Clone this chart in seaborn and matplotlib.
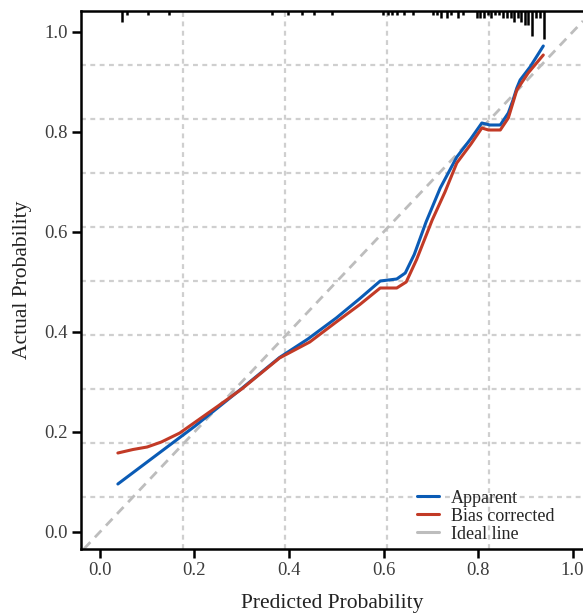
import numpy as np
import pandas as pd
import matplotlib
matplotlib.use("Agg")
import matplotlib.pyplot as plt
import matplotlib.transforms as mtransforms
from matplotlib.lines import Line2D
import seaborn as sns

# Calibration curves (lowess-smoothed)
apparent_x = [0.038, 0.10, 0.20, 0.30, 0.38, 0.44, 0.50, 0.55, 0.593, 0.628, 0.646,
              0.665, 0.69, 0.72, 0.755, 0.785, 0.808, 0.825, 0.847, 0.864, 0.874,
              0.882, 0.889, 0.91, 0.938]
apparent_y = [0.096, 0.14, 0.211, 0.287, 0.349, 0.386, 0.428, 0.467, 0.502, 0.506, 0.518,
              0.555, 0.62, 0.688, 0.75, 0.787, 0.818, 0.814, 0.814, 0.838, 0.864,
              0.888, 0.904, 0.93, 0.972]
corrected_x = [0.038, 0.07, 0.10, 0.13, 0.169, 0.205, 0.25, 0.30, 0.38, 0.444, 0.50,
               0.55, 0.593, 0.628, 0.648, 0.67, 0.703, 0.73, 0.755, 0.785, 0.808,
               0.822, 0.847, 0.864, 0.882, 0.906, 0.938]
corrected_y = [0.158, 0.165, 0.170, 0.180, 0.198, 0.222, 0.252, 0.286, 0.348, 0.38, 0.42,
               0.455, 0.488, 0.488, 0.50, 0.545, 0.624, 0.68, 0.738, 0.776, 0.808,
               0.804, 0.804, 0.828, 0.884, 0.918, 0.954]

# Distribution of predicted probabilities (histogram along the top)
pred_bins = [0.047, 0.057, 0.102, 0.146, 0.364, 0.398, 0.428, 0.453, 0.491, 0.599,
             0.610, 0.618, 0.629, 0.643, 0.662, 0.705, 0.713, 0.722, 0.734, 0.743,
             0.758, 0.768, 0.798, 0.804, 0.813, 0.821, 0.827, 0.836, 0.844, 0.853,
             0.861, 0.870, 0.876, 0.885, 0.891, 0.899, 0.906, 0.914, 0.923, 0.931, 0.940]
pred_counts = [3, 1, 1, 1, 1, 1, 1, 1, 1, 1,
               1, 1, 1, 1, 1, 1, 1, 2, 2, 1,
               2, 1, 2, 2, 2, 1, 2, 1, 1, 2,
               2, 2, 3, 2, 3, 4, 4, 7, 2, 2, 8]

x_ticks = [0.0, 0.2, 0.4, 0.6, 0.8, 1.0]
y_ticks = [0.0, 0.2, 0.4, 0.6, 0.8, 1.0]
tick_labels = ["0.0", "0.2", "0.4", "0.6", "0.8", "1.0"]
series_names = ["Apparent", "Bias corrected", "Ideal line"]
colors = {"Apparent": "#0a5bb5", "Bias corrected": "#c23a26", "Ideal line": "#bdbdbd"}

df = pd.concat([
    pd.DataFrame({"x": apparent_x, "y": apparent_y, "series": "Apparent"}),
    pd.DataFrame({"x": corrected_x, "y": corrected_y, "series": "Bias corrected"}),
], ignore_index=True)

sns.set_theme(style="white")
plt.rcParams["font.family"] = ["Liberation Serif", "DejaVu Serif"]

fig = plt.figure(figsize=(5.83, 6.14), dpi=100)
ax = fig.add_axes([81 / 583, 65 / 614, 502 / 583, 538 / 614])

ax.set_xlim(-0.04, 1.022)
ax.set_ylim(-0.034, 1.042)

# Dashed background grid
ax.set_xticks(np.arange(0.176, 1.0, 0.216), minor=True)
ax.set_yticks(np.arange(0.07, 1.0, 0.108), minor=True)
ax.grid(which="minor", color="#cfcfcf", linewidth=1.6, dashes=(2.2, 2.0))
ax.grid(which="major", visible=False)
ax.set_axisbelow(True)

# Ideal reference line
ax.axline((0, 0), slope=1, color=colors["Ideal line"], linewidth=2.0,
          dashes=(3.4, 2.4), zorder=2)

sns.lineplot(data=df, x="x", y="y", hue="series", palette=colors,
             hue_order=["Apparent", "Bias corrected"], estimator=None, sort=False,
             linewidth=2.2, legend=False, ax=ax, zorder=3)

# Histogram of predictions hanging from the top axis
trans = mtransforms.blended_transform_factory(ax.transData, ax.transAxes)
unit = 3.5 / 538
ax.vlines(pred_bins, 1.0, [1.0 - c * unit for c in pred_counts],
          color="black", linewidth=1.8, transform=trans, zorder=4)

ax.set_xticks(x_ticks)
ax.set_xticklabels(tick_labels)
ax.set_yticks(y_ticks)
ax.set_yticklabels(tick_labels)
ax.tick_params(axis="both", which="major", length=6.5, width=1.8, color="black",
               labelsize=13.5, labelcolor="#3d3d3d", pad=3, bottom=True, left=True)
ax.tick_params(axis="both", which="minor", length=0)

for side in ["left", "bottom", "top"]:
    ax.spines[side].set_color("black")
    ax.spines[side].set_linewidth(1.8)
ax.spines["right"].set_visible(False)

ax.set_xlabel("Predicted Probability", fontsize=15.5, color="#222222", labelpad=11)
ax.set_ylabel("Actual Probability", fontsize=15.5, color="#222222", labelpad=9)

handles = [Line2D([0], [0], color=colors[n], linewidth=2.2) for n in series_names]
ax.legend(handles, series_names, loc="lower left", bbox_to_anchor=(0.669, 0.012),
          frameon=False, fontsize=13, handlelength=1.2, handletextpad=0.7,
          labelspacing=0.05, borderpad=0, borderaxespad=0)

fig.savefig("out.png", dpi=100)
